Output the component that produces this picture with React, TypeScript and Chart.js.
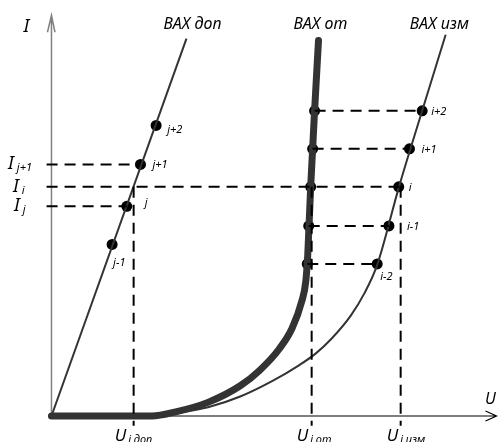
import React, { useEffect, useRef } from "react";
import { Chart, registerables } from "chart.js";

Chart.register(...registerables);

// ---- data (U in arbitrary volts, I in arbitrary amps) ----
const dopU = [0, 13.8];
const dopI = [0, 38.7];

const otU = [0, 10.3, 12.6, 16.0, 19.3, 21.3, 23.3, 24.6, 25.6, 26.0, 26.2, 26.5, 26.9, 27.3];
const otI = [0, 0, 0.4, 1.4, 3.1, 4.7, 6.9, 9.0, 11.8, 13.8, 16.5, 23.5, 31.3, 38.5];

const izmU = [0, 10.3, 13.0, 16.0, 19.3, 22.6, 25.3, 27.0, 28.6, 30.6, 32.0, 33.3, 35.5, 37.9, 40.3];
const izmI = [0, 0, 0.35, 0.9, 2.0, 3.6, 5.2, 6.4, 7.9, 10.3, 12.6, 15.5, 23.4, 31.3, 39.1];

const baseU = [0, 10.3];
const baseI = [0, 0];

// measured points on the three curves
const levelI = [15.6, 19.5, 23.5, 27.4, 31.3];
const otPointU = [26.15, 26.3, 26.5, 26.7, 26.9];
const izmPointU = [33.3, 34.5, 35.5, 36.6, 37.9];
const izmPointLabels = ["i-2", "i-1", "i", "i+1", "i+2"];

const dopPointU = [6.2, 7.7, 9.1, 10.7];
const dopPointI = [17.6, 21.5, 25.8, 29.8];
const dopPointLabels = ["j-1", "j", "j+1", "j+2"];

// tick labels
const iTickValues = [25.8, 23.5, 21.5];
const iTickSubs = ["j+1", "i", "j"];
const iTickEndU = [9.1, 35.6, 7.7];
const uTickValues = [8.4, 26.6, 35.7];
const uTickSubs = ["i доп", "i от", "i изм"];
const curveTitles = ["ВАХ доп", "ВАХ от", "ВАХ изм"];

const FONT = '"Noto Sans", "DejaVu Sans", sans-serif';
const INK = "#333333";

function pts(xs: number[], ys: number[]) {
  return xs.map((x, k) => ({ x, y: ys[k] }));
}

const dashStyle = {
  borderColor: "#000",
  borderWidth: 2,
  borderDash: [11, 7],
  pointRadius: 0,
  showLine: true,
  fill: false,
  tension: 0,
};

function buildDatasets() {
  const ds: any[] = [];
  // dashed guide lines
  iTickValues.forEach((v, k) => {
    ds.push({ ...dashStyle, data: [{ x: -0.5, y: v }, { x: iTickEndU[k], y: v }] });
  });
  uTickValues.forEach((u) => {
    ds.push({ ...dashStyle, data: [{ x: u, y: levelI[2] }, { x: u, y: -1.0 }] });
  });
  levelI.forEach((v, k) => {
    if (k === 2) return;
    ds.push({ ...dashStyle, data: [{ x: otPointU[k], y: v }, { x: izmPointU[k], y: v }] });
  });
  // curves
  ds.push({
    data: pts(dopU, dopI),
    showLine: true,
    borderColor: INK,
    borderWidth: 2,
    pointRadius: 0,
    tension: 0,
  });
  ds.push({
    data: pts(izmU, izmI),
    showLine: true,
    borderColor: INK,
    borderWidth: 2,
    pointRadius: 0,
    cubicInterpolationMode: "monotone",
  });
  ds.push({
    data: pts(otU, otI),
    showLine: true,
    borderColor: INK,
    borderWidth: 7,
    borderCapStyle: "round",
    borderJoinStyle: "round",
    pointRadius: 0,
    cubicInterpolationMode: "monotone",
  });
  ds.push({
    data: pts(baseU, baseI),
    showLine: true,
    borderColor: "#000",
    borderWidth: 6,
    borderCapStyle: "round",
    pointRadius: 0,
  });
  // points
  const dot = {
    showLine: false,
    pointRadius: 5.5,
    pointBackgroundColor: "#000",
    pointBorderWidth: 0,
    borderColor: "#000",
  };
  ds.push({ ...dot, data: pts(otPointU, levelI) });
  ds.push({ ...dot, data: pts(izmPointU, levelI) });
  ds.push({ ...dot, data: pts(dopPointU, dopPointI) });
  return ds;
}

// label offsets in pixels (style only)
const izmLabelDx = [3, 18, 10, 12, 9];
const izmLabelDy = [16, 4, 4, 4, 4];
const dopLabelDx = [1, 18, 12, 11];
const dopLabelDy = [22, 0, 4, 8];

const diagramPlugin = {
  id: "diagram",
  beforeDatasetsDraw(chart: any) {
    const ctx = chart.ctx as CanvasRenderingContext2D;
    const xs = chart.scales.x;
    const ys = chart.scales.y;
    const x0 = xs.getPixelForValue(0);
    const y0 = ys.getPixelForValue(0);
    const yTop = ys.getPixelForValue(41.1);
    const xRight = xs.getPixelForValue(45.5);
    ctx.save();
    // I axis
    ctx.strokeStyle = "#808080";
    ctx.lineWidth = 1.5;
    ctx.beginPath();
    ctx.moveTo(x0, y0);
    ctx.lineTo(x0, yTop);
    ctx.moveTo(x0 - 4, yTop + 17);
    ctx.lineTo(x0, yTop);
    ctx.lineTo(x0 + 3.5, yTop + 17);
    ctx.stroke();
    // U axis
    ctx.strokeStyle = "#000";
    ctx.lineWidth = 1.2;
    ctx.beginPath();
    ctx.moveTo(x0, y0);
    ctx.lineTo(xRight, y0);
    ctx.moveTo(xRight - 11, y0 - 5);
    ctx.lineTo(xRight, y0);
    ctx.lineTo(xRight - 11, y0 + 5);
    ctx.stroke();
    ctx.restore();
  },
  afterDatasetsDraw(chart: any) {
    const ctx = chart.ctx as CanvasRenderingContext2D;
    const xs = chart.scales.x;
    const ys = chart.scales.y;
    const px = (u: number) => xs.getPixelForValue(u);
    const py = (i: number) => ys.getPixelForValue(i);
    ctx.save();
    ctx.fillStyle = "#000";
    ctx.textBaseline = "alphabetic";
    ctx.textAlign = "left";

    // curve titles
    ctx.font = `italic 16px ${FONT}`;
    const titleX = [px(dopU[1]) - 23, px(otU[otU.length - 1]) - 25, px(izmU[izmU.length - 1]) - 36];
    curveTitles.forEach((t, k) => ctx.fillText(t, titleX[k], 29));

    // axis names
    ctx.font = `italic 18px ${FONT}`;
    ctx.fillText("I", px(0) - 28, 32);
    ctx.font = `italic 16px ${FONT}`;
    ctx.fillText("U", 485, py(0) - 12);

    // I tick labels
    const iLeft = [8, 13, 14];
    iTickValues.forEach((v, k) => {
      const y = py(v);
      ctx.font = `italic 18px ${FONT}`;
      ctx.fillText("I", iLeft[k], y + 5);
      const w = ctx.measureText("I").width;
      ctx.font = `italic 11px ${FONT}`;
      ctx.fillText(iTickSubs[k], iLeft[k] + w + 3, y + 7);
    });

    // U tick labels
    const uDx = [-19, -15, -14];
    uTickValues.forEach((u, k) => {
      const x = px(u) + uDx[k];
      ctx.font = `italic 17px ${FONT}`;
      ctx.fillText("U", x, 441);
      const w = ctx.measureText("U").width;
      ctx.font = `italic 11px ${FONT}`;
      ctx.fillText(uTickSubs[k], x + w + 2, 443);
    });

    // point labels
    ctx.font = `italic 11px ${FONT}`;
    izmPointLabels.forEach((t, k) => {
      ctx.fillText(t, px(izmPointU[k]) + izmLabelDx[k], py(levelI[k]) + izmLabelDy[k]);
    });
    dopPointLabels.forEach((t, k) => {
      ctx.fillText(t, px(dopPointU[k]) + dopLabelDx[k], py(dopPointI[k]) + dopLabelDy[k]);
    });
    ctx.restore();
  },
};

export default function App() {
  const ref = useRef<HTMLCanvasElement | null>(null);
  useEffect(() => {
    if (!ref.current) return;
    const chart = new Chart(ref.current, {
      type: "scatter",
      data: { datasets: buildDatasets() },
      options: {
        animation: false,
        responsive: false,
        devicePixelRatio: 1,
        layout: { padding: 0 },
        events: [],
        plugins: { legend: { display: false }, tooltip: { enabled: false } },
        scales: {
          x: { type: "linear", display: false, min: -4.7, max: 45.6 },
          y: { type: "linear", display: false, min: -2.1, max: 42.1 },
        },
      },
      plugins: [diagramPlugin],
    } as any);
    return () => chart.destroy();
  }, []);
  return (
    <div style={{ position: "absolute", left: 0, top: 0, width: 503, height: 442, background: "#fff" }}>
      <canvas ref={ref} width={503} height={442} style={{ width: 503, height: 442, display: "block" }} />
    </div>
  );
}
